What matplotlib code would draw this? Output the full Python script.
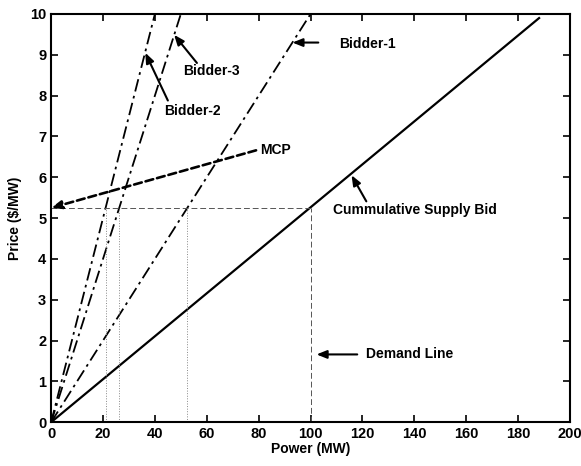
import numpy as np
import matplotlib
matplotlib.use("Agg")
import matplotlib.pyplot as plt

plt.rcParams['font.family'] = ['Liberation Sans', 'DejaVu Sans']

# data
price_end = 10.0
bidder1_slope = 10.0   # MW per $/MW
bidder2_slope = 4.0
bidder3_slope = 5.0
supply_price_end = 9.9
mcp_price = 5.25
mcp_power = 100.0
mcp_arrow_start = (79.0, 6.66)
xticks = [0, 20, 40, 60, 80, 100, 120, 140, 160, 180, 200]
yticks = [0, 1, 2, 3, 4, 5, 6, 7, 8, 9, 10]

fig = plt.figure(figsize=(5.81, 4.66), dpi=100)
ax = fig.add_axes([0.088, 0.094, 0.893, 0.876])

dashdot = (0, (7, 2.5, 1.5, 2.5))
p = np.array([0, price_end])
ax.plot(bidder1_slope * p, p, color='black', ls=dashdot, lw=1.3)
ax.plot(bidder2_slope * p, p, color='black', ls=dashdot, lw=1.3)
ax.plot(bidder3_slope * p, p, color='black', ls=dashdot, lw=1.3)
total = bidder1_slope + bidder2_slope + bidder3_slope
ps = np.array([0, supply_price_end])
ax.plot(total * ps, ps, color='black', ls='-', lw=1.6)

# guide lines
ax.plot([0, mcp_power], [mcp_price, mcp_price], color='#555555', ls=(0, (6, 3)), lw=0.7)
ax.plot([mcp_power, mcp_power], [0, mcp_price], color='#555555', ls=(0, (6, 3)), lw=0.7)
for s in (bidder2_slope, bidder3_slope, bidder1_slope):
    ax.plot([s * mcp_price, s * mcp_price], [0, mcp_price], color='#888888', ls=':', lw=0.7)

# MCP arrow
ax.annotate('', xy=(0, mcp_price), xytext=mcp_arrow_start,
            arrowprops=dict(arrowstyle='-|>,head_length=0.5,head_width=0.2', color='black', lw=1.9, ls=(0, (3, 1.5)),
                            mutation_scale=12, shrinkA=0, shrinkB=0))
ax.text(80.4, 6.68, 'MCP', fontsize=10, fontweight='bold', va='center', ha='left')

def label(text, tip, tail, textpos):
    ax.annotate('', xy=tip, xytext=tail,
                arrowprops=dict(arrowstyle='-|>,head_length=0.5,head_width=0.2', color='black', lw=1.5,
                                mutation_scale=12, shrinkA=0, shrinkB=0))
    ax.text(textpos[0], textpos[1], text, fontsize=10, fontweight='bold', va='center', ha='left')

label('Bidder-1', (93.0, 9.3), (103.0, 9.3), (111.0, 9.27))
label('Bidder-3', (47.4, 9.49), (56.2, 8.8), (50.8, 8.6))
label('Bidder-2', (36.3, 9.05), (45.0, 7.88), (43.5, 7.62))
label('Cummulative Supply Bid', (115.8, 6.05), (121.5, 5.41), (108.8, 5.2))
label('Demand Line', (102.3, 1.66), (118.0, 1.66), (121.5, 1.66))

ax.set_xlim(0, 200)
ax.set_ylim(0, 10)
ax.set_xticks(xticks)
ax.set_yticks(yticks)
ax.tick_params(direction='in', top=True, right=True, length=5, width=1.2, labelsize=10.5)
for lab in ax.get_xticklabels() + ax.get_yticklabels():
    lab.set_fontweight('bold')
for sp in ax.spines.values():
    sp.set_linewidth(1.5)
ax.set_xlabel('Power (MW)', fontsize=10, fontweight='bold', labelpad=1)
ax.set_ylabel('Price ($/MW)', fontsize=10, fontweight='bold', labelpad=6)

fig.savefig('out.png', dpi=100)
